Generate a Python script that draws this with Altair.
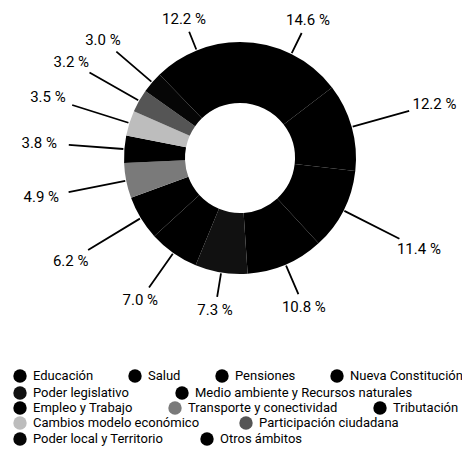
import math
import altair as alt
import pandas as pd

# ---- data -------------------------------------------------------------
categories = [
    "Educación", "Salud", "Pensiones", "Nueva Constitución",
    "Poder legislativo", "Medio ambiente y Recursos naturales",
    "Empleo y Trabajo", "Transporte y conectividad", "Tributación",
    "Cambios modelo económico", "Participación ciudadana",
    "Poder local y Territorio", "Otros ámbitos",
]
values = [14.6, 12.2, 11.4, 10.8, 7.3, 7.0, 6.2, 4.9, 3.8, 3.5, 3.2, 3.0, 12.2]
legend_rows = [1, 1, 1, 1, 2, 2, 3, 3, 3, 4, 4, 5, 5]
colors = [
    "#000000", "#000000", "#000000", "#000000",
    "#111111", "#000000",
    "#000000", "#7a7a7a", "#000000",
    "#bdbdbd", "#555555",
    "#060606", "#000000",
]

df = pd.DataFrame({
    "category": categories,
    "value": values,
    "order": list(range(len(categories))),
    "row": legend_rows,
})

FONT = "Roboto"
CX, CY = 232, 150
theta_scale = alt.Scale(domain=[0, 1], range=[0, 2 * math.pi])

base = (
    alt.Chart(df)
    .transform_joinaggregate(total="sum(value)")
    .transform_window(cum="sum(value)", sort=[alt.SortField("order")], frame=[None, 0])
    .transform_calculate(
        start="(datum.cum - datum.value) / datum.total",
        end="datum.cum / datum.total",
        mid="(datum.cum - datum.value / 2) / datum.total",
        label="format(datum.value, '.1f') + ' %'",
    )
    .transform_calculate(ang="2 * PI * datum.mid")
    .transform_calculate(
        # labels sit on a rounded (super-elliptic) path round the ring
        lr="pow(pow(abs(sin(datum.ang)) / 201, 2.6) + "
           "pow(abs(cos(datum.ang)) / (cos(datum.ang) > 0 ? 141 : 152), 2.6), -1 / 2.6)",
        gap="1 / sqrt(pow(sin(datum.ang) / 30, 2) + pow(cos(datum.ang) / 13, 2))",
    )
    .transform_calculate(lend="datum.lr - datum.gap")
)

row_y = {1: 361, 2: 378, 3: 393, 4: 408, 5: 424}
row_pad = {1: 34, 2: 46, 3: 35, 4: 39, 5: 36}

layers = []
for r in range(1, 6):
    cats = [c for c, rw in zip(categories, legend_rows) if rw == r]
    cols = [col for col, rw in zip(colors, legend_rows) if rw == r]
    layers.append(
        base.transform_filter(f"datum.row == {r}")
        .mark_arc(innerRadius=55, outerRadius=116)
        .encode(
            theta=alt.Theta("start:Q", scale=theta_scale, stack=None),
            theta2="end:Q",
            x=alt.value(CX),
            y=alt.value(CY),
            color=alt.Color(
                "category:N",
                scale=alt.Scale(domain=cats, range=cols),
                legend=alt.Legend(
                    orient="none", legendX=5, legendY=row_y[r],
                    direction="horizontal", columns=len(cats), title=None,
                    symbolType="circle", symbolSize=180, symbolStrokeWidth=0,
                    symbolOpacity=1, labelFont=FONT, labelFontSize=13,
                    labelColor="#000000", labelOffset=6, labelLimit=400,
                    columnPadding=row_pad[r], padding=0,
                ),
            ),
        )
    )

leaders = base.mark_arc(
    innerRadius=117, filled=False, stroke="#000000", strokeWidth=1.8
).encode(
    theta=alt.Theta("mid:Q", scale=theta_scale, stack=None),
    theta2="mid:Q",
    radius=alt.Radius("lend:Q", scale=None),
    x=alt.value(CX),
    y=alt.value(CY),
)

texts = base.mark_text(
    font=FONT, fontSize=15, color="#000000", align="center", baseline="middle"
).encode(
    theta=alt.Theta("mid:Q", scale=theta_scale, stack=None),
    radius=alt.Radius("lr:Q", scale=None),
    text="label:N",
    x=alt.value(CX),
    y=alt.value(CY),
)

chart = (
    alt.layer(*layers, leaders, texts)
    .resolve_scale(color="independent")
    .properties(width=454, height=440, padding=0, autosize=alt.AutoSizeParams(type="none"))
    .configure_view(stroke=None)
)

chart.save("out.html", embed_options={"renderer": "svg", "actions": False})
